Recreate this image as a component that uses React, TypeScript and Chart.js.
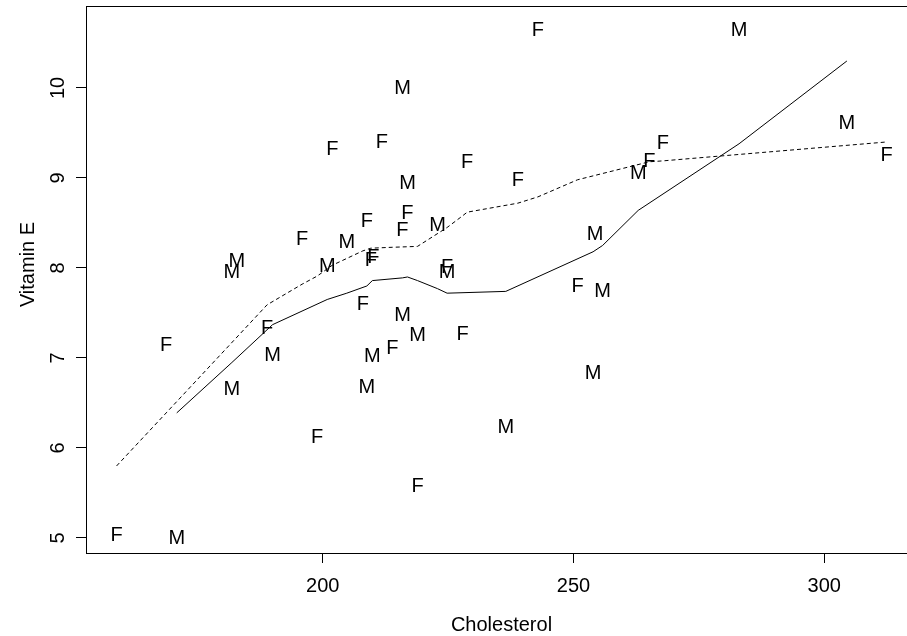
import React, { useEffect, useRef } from "react";
import { Chart, registerables } from "chart.js";

Chart.register(...registerables);

// ---- data ----
const sex = [
  "F", "M", "F", "M", "M", "M", "F", "M", "F", "F",
  "M", "F", "M", "F", "M", "F", "F", "F", "M", "F",
  "F", "M", "M", "F", "F", "M", "M", "F", "M", "F",
  "M", "F", "F", "M", "F", "F", "F", "M", "M", "M",
  "M", "F", "F", "M", "M", "F",
];
const cholesterol = [
  158.9, 170.9, 168.8, 181.9, 181.9, 182.9, 188.9, 190.0, 195.9, 198.9,
  200.9, 201.9, 204.8, 208.0, 208.8, 208.8, 210.1, 209.6, 209.9, 211.8,
  213.9, 215.9, 215.9, 215.9, 216.9, 216.9, 218.9, 218.9, 222.9, 224.8,
  224.8, 227.9, 228.8, 236.5, 238.9, 242.9, 250.8, 253.9, 254.3, 255.8,
  262.9, 265.1, 267.8, 283.0, 304.5, 312.4,
];
const vitaminE = [
  5.05, 5.01, 7.16, 6.67, 7.97, 8.09, 7.35, 7.05, 8.33, 6.13,
  8.03, 9.33, 8.30, 7.61, 6.69, 8.53, 8.13, 8.10, 7.04, 9.41,
  7.12, 10.01, 7.49, 8.44, 8.62, 8.96, 7.27, 5.59, 8.49, 8.02,
  7.97, 7.28, 9.19, 6.25, 8.99, 10.66, 7.81, 6.85, 8.39, 7.76,
  9.07, 9.20, 9.40, 10.66, 9.62, 9.27,
];

// smooth (lowess-like) curves: solid = M, dashed = F
const maleFitX = [170.9, 181.9, 190.0, 200.9, 204.8, 208.8, 209.9, 215.9, 216.9, 218.9, 222.9, 224.8, 236.5, 253.9, 255.8, 262.9, 283.0, 304.5];
const maleFitY = [6.39, 6.95, 7.37, 7.65, 7.72, 7.80, 7.86, 7.89, 7.90, 7.86, 7.77, 7.72, 7.74, 8.18, 8.25, 8.64, 9.38, 10.30];
const femaleFitX = [158.9, 168.8, 188.9, 195.9, 198.9, 201.9, 208.0, 209.6, 213.9, 218.9, 224.8, 227.9, 228.8, 238.9, 242.9, 250.8, 265.1, 267.8, 312.4];
const femaleFitY = [5.80, 6.39, 7.59, 7.82, 7.91, 8.03, 8.19, 8.22, 8.23, 8.24, 8.45, 8.58, 8.62, 8.72, 8.79, 8.98, 9.18, 9.19, 9.40];

const xTicks = [200, 250, 300];
const yTicks = [5, 6, 7, 8, 9, 10];
const xRange = [152.81, 318.48];
const yRange = [4.833, 10.911];

const xTitle = "Cholesterol";
const yTitle = "Vitamin E";

const FONT = '"Liberation Sans", Arial, Helvetica, sans-serif';

const letterPlugin = {
  id: "letters",
  afterDatasetsDraw(chart: any) {
    const ctx = chart.ctx;
    ctx.save();
    ctx.font = `20px ${FONT}`;
    ctx.fillStyle = "#000";
    ctx.textAlign = "center";
    ctx.textBaseline = "alphabetic";
    chart.data.datasets.forEach((ds: any, i: number) => {
      if (!ds.glyph) return;
      const meta = chart.getDatasetMeta(i);
      meta.data.forEach((el: any) => {
        ctx.fillText(ds.glyph, el.x, el.y + 7.2);
      });
    });
    ctx.restore();
  },
};

const boxPlugin = {
  id: "box",
  afterDraw(chart: any) {
    const { left, top, right, bottom } = chart.chartArea;
    const ctx = chart.ctx;
    ctx.save();
    ctx.strokeStyle = "#000";
    ctx.lineWidth = 1;
    ctx.strokeRect(Math.round(left) + 0.5, Math.round(top) + 0.5, right - left, bottom - top);
    // y-axis title
    ctx.fillStyle = "#000";
    ctx.font = `20px ${FONT}`;
    ctx.textAlign = "center";
    ctx.textBaseline = "middle";
    ctx.translate(28.5, (top + bottom) / 2 - 15);
    ctx.rotate(-Math.PI / 2);
    ctx.fillText(yTitle, 0, 0);
    ctx.restore();
  },
};

export default function App() {
  const ref = useRef<HTMLCanvasElement | null>(null);

  useEffect(() => {
    if (!ref.current) return;
    const pts = (g: string) =>
      cholesterol
        .map((x, i) => ({ x, y: vitaminE[i], g: sex[i] }))
        .filter((p) => p.g === g)
        .map((p) => ({ x: p.x, y: p.y }));

    const chart = new Chart(ref.current, {
      type: "scatter",
      data: {
        datasets: [
          {
            label: "M fit",
            data: maleFitX.map((x, i) => ({ x, y: maleFitY[i] })),
            showLine: true,
            borderColor: "#000",
            borderWidth: 1,
            pointRadius: 0,
            tension: 0,
          } as any,
          {
            label: "F fit",
            data: femaleFitX.map((x, i) => ({ x, y: femaleFitY[i] })),
            showLine: true,
            borderColor: "#000",
            borderWidth: 1,
            borderDash: [4, 3],
            pointRadius: 0,
            tension: 0,
          } as any,
          { label: "F", glyph: "F", data: pts("F"), pointRadius: 0, showLine: false } as any,
          { label: "M", glyph: "M", data: pts("M"), pointRadius: 0, showLine: false } as any,
        ],
      },
      options: {
        animation: false,
        responsive: false,
        devicePixelRatio: 1,
        events: [],
        layout: { padding: { left: 0, right: 13, top: 6, bottom: 0 } },
        plugins: { legend: { display: false }, tooltip: { enabled: false } },
        scales: {
          x: {
            type: "linear",
            min: xRange[0],
            max: xRange[1],
            afterBuildTicks: (s: any) => {
              s.ticks = xTicks.map((v) => ({ value: v }));
            },
            afterFit: (s: any) => {
              s.height = 83;
              s.paddingLeft = 0;
              s.paddingRight = 0;
            },
            border: { display: false },
            grid: {
              display: true,
              drawOnChartArea: false,
              drawTicks: true,
              tickLength: 10,
              color: "#000",
              tickColor: "#000",
              tickWidth: 1,
            },
            ticks: {
              color: "#000",
              font: { family: FONT, size: 20 },
              padding: 11,
              maxRotation: 0,
              autoSkip: false,
            },
            title: {
              display: true,
              text: xTitle,
              color: "#000",
              font: { family: FONT, size: 20, lineHeight: 1.1 },
              padding: { top: 0, bottom: 0 },
            },
          },
          y: {
            type: "linear",
            min: yRange[0],
            max: yRange[1],
            afterBuildTicks: (s: any) => {
              s.ticks = yTicks.map((v) => ({ value: v }));
            },
            afterFit: (s: any) => {
              s.width = 86;
              s.paddingTop = 0;
              s.paddingBottom = 0;
            },
            border: { display: false },
            grid: {
              display: true,
              drawOnChartArea: false,
              drawTicks: true,
              tickLength: 10,
              color: "#000",
              tickColor: "#000",
              tickWidth: 1,
            },
            ticks: {
              color: "#000",
              font: { family: FONT, size: 20 },
              padding: 6,
              minRotation: 90,
              maxRotation: 90,
              crossAlign: "center",
              autoSkip: false,
            },
            title: { display: false },
          },
        },
      } as any,
      plugins: [letterPlugin, boxPlugin],
    });
    return () => chart.destroy();
  }, []);

  return (
    <div
      style={{
        position: "fixed",
        left: 0,
        top: 0,
        width: 907,
        height: 636,
        overflow: "hidden",
        background: "#fff",
      }}
    >
      <canvas ref={ref} width={930} height={636} style={{ display: "block" }} />
    </div>
  );
}
